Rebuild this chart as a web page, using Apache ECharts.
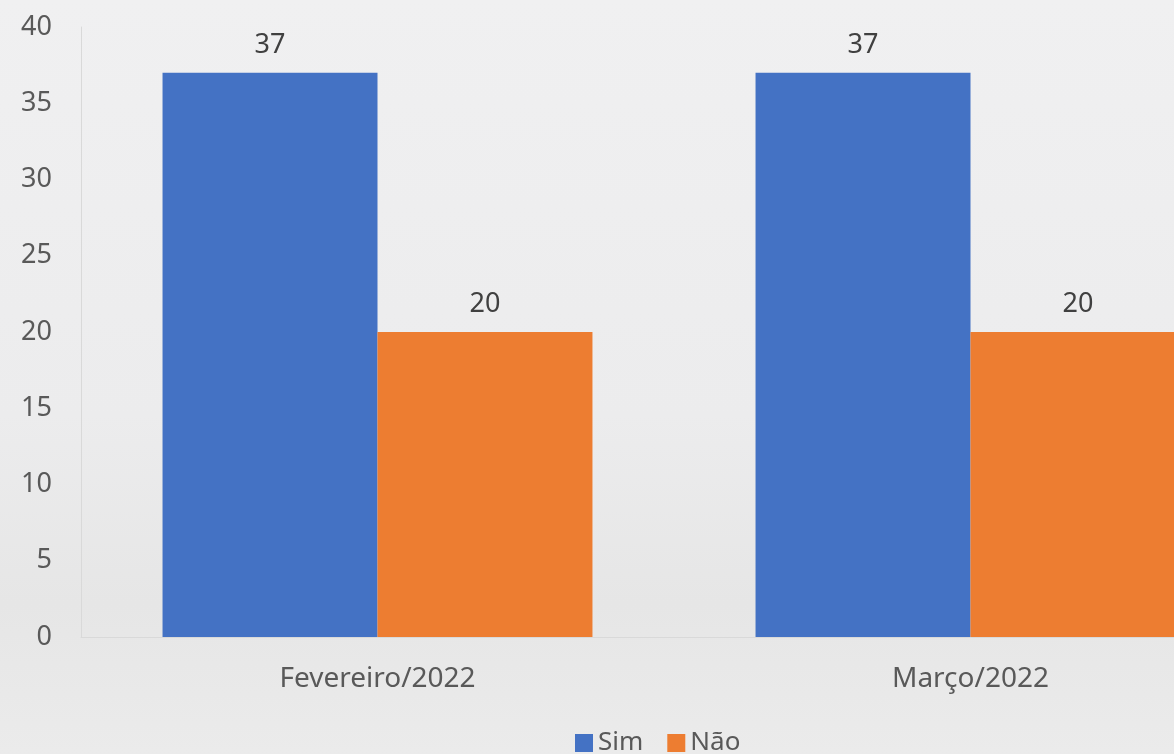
<!DOCTYPE html>
<html>
<head>
<meta charset="utf-8">
<script src="https://cdn.jsdelivr.net/npm/echarts@6/dist/echarts.min.js"></script>
<style>
  html, body { margin: 0; padding: 0; width: 1174px; height: 754px; overflow: hidden; }
  body { background: linear-gradient(#f0f0f1, #ececed 55%, #e6e6e6 80%, #ebebeb); }
  #chart { width: 1268px; height: 754px; }
</style>
</head>
<body>
<div id="chart"></div>
<script>
// categories and values
const months = ['Fevereiro/2022', 'Março/2022']
const simValues = [37, 37]
const naoValues = [20, 20]
const yTicks = { min: 0, max: 40, interval: 5 }

const chart = echarts.init(document.getElementById('chart'))
const font = '"Noto Sans", "Open Sans", sans-serif'

const option = {
  color: ['#4472c4', '#ed7d31'],
  textStyle: { fontFamily: font },
  grid: {
    left: 81,
    right: 1,
    top: 27,
    bottom: 117,
  },
  legend: {
    left: 570,
    top: 725,
    itemWidth: 18,
    itemHeight: 18,
    itemGap: 24,
    icon: 'rect',
    textStyle: { fontSize: 26, color: '#595959', fontFamily: font },
    data: ['Sim', 'Não'],
  },
  xAxis: {
    type: 'category',
    data: months,
    axisTick: { show: false },
    axisLine: { lineStyle: { color: '#d9d9d9', width: 1 } },
    axisLabel: { color: '#595959', fontSize: 28, margin: 28, fontFamily: font },
  },
  yAxis: {
    type: 'value',
    min: yTicks.min,
    max: yTicks.max,
    interval: yTicks.interval,
    axisLine: { show: true, lineStyle: { color: '#d9d9d9', width: 1 } },
    splitLine: { show: false },
    axisLabel: { color: '#595959', fontSize: 27, margin: 29, fontFamily: font },
  },
  series: [
    {
      name: 'Sim',
      type: 'bar',
      data: simValues,
      barGap: '0%',
      barCategoryGap: '27.5%',
      label: { show: true, position: 'top', distance: 14, color: '#404040', fontSize: 27, fontFamily: font },
    },
    {
      name: 'Não',
      type: 'bar',
      data: naoValues,
      label: { show: true, position: 'top', distance: 14, color: '#404040', fontSize: 27, fontFamily: font },
    },
  ],
}
chart.setOption(option)
</script>
</body>
</html>
